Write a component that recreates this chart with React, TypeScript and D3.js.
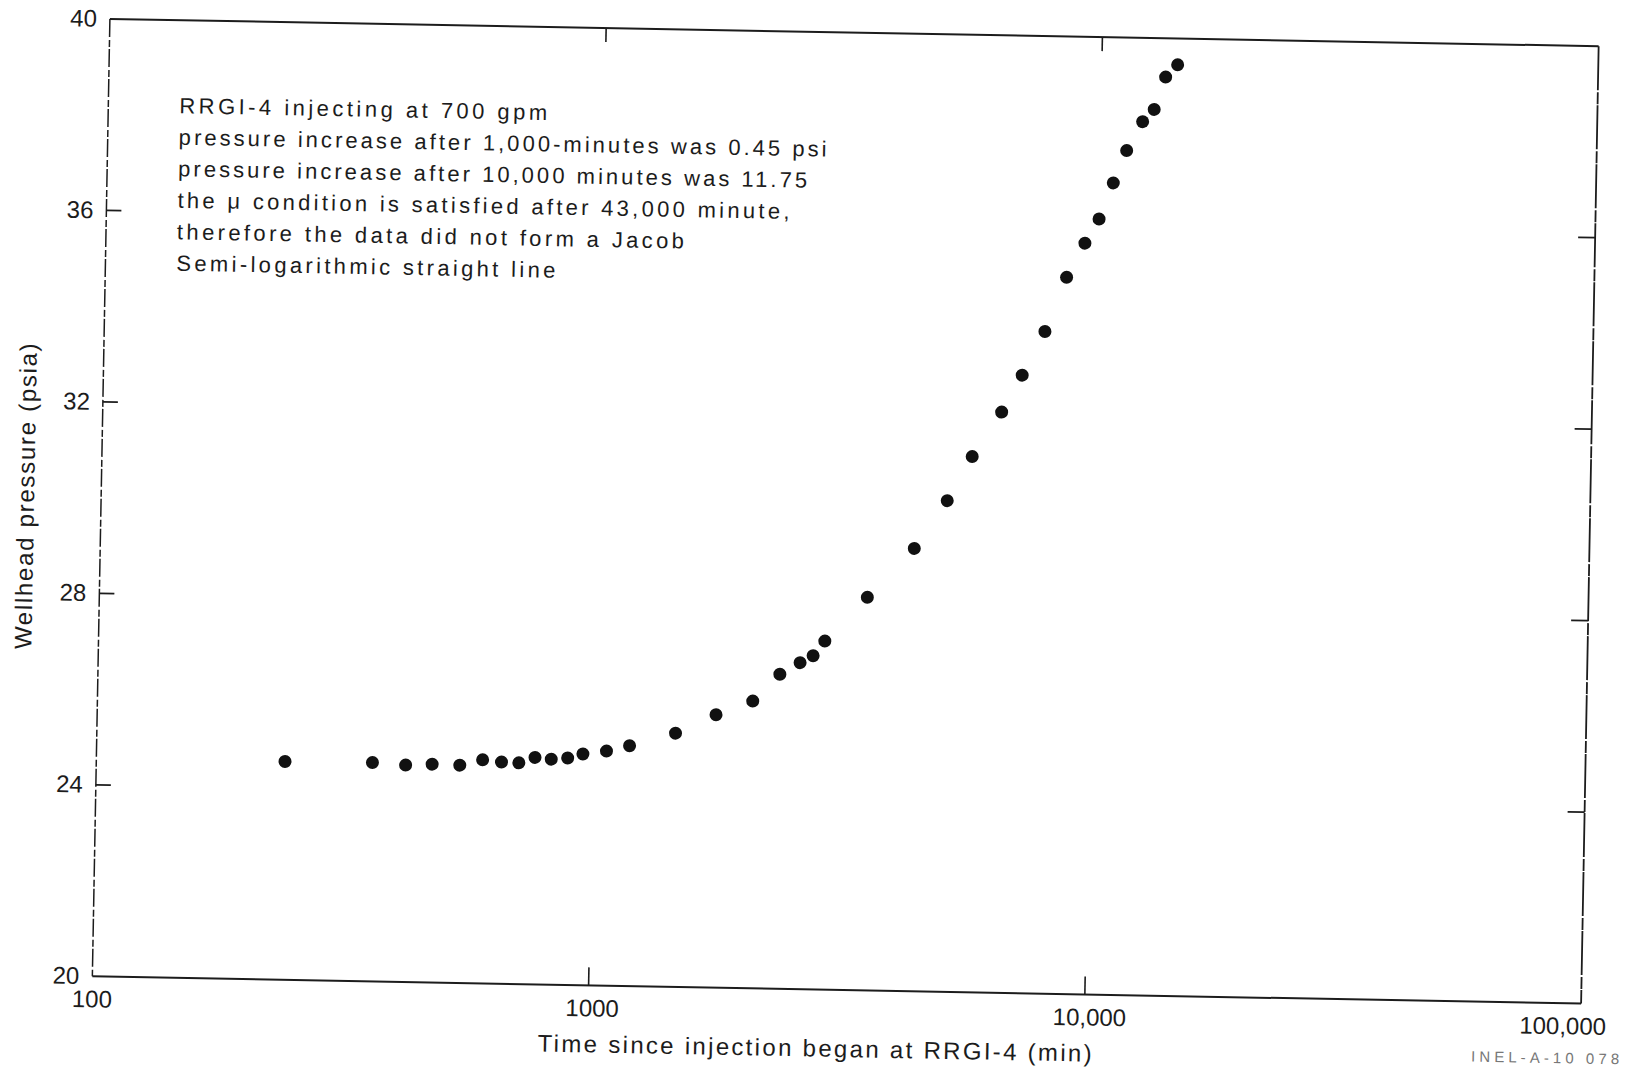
import React, { useMemo } from 'react';
import * as d3 from 'd3';

const times = [240, 360, 420, 475, 540, 600, 655, 710, 765, 825, 890, 955, 1065, 1185, 1465, 1765, 2090, 2365, 2595, 2755, 2905, 3525, 4365, 5065, 5665, 6470, 7095, 7855, 8645, 9385, 10000, 10650, 11300, 12140, 12795, 13455, 14210];
const pressures = [24.56, 24.57, 24.53, 24.56, 24.55, 24.67, 24.63, 24.62, 24.74, 24.71, 24.74, 24.83, 24.9, 25.02, 25.3, 25.7, 26.0, 26.57, 26.82, 26.97, 27.28, 28.21, 29.25, 30.26, 31.19, 32.13, 32.91, 33.83, 34.97, 35.69, 36.2, 36.96, 37.64, 38.25, 38.51, 39.19, 39.45];

const xTickValues = [100, 1000, 10000, 100000];
const xTickLabels = ['100', '1000', '10,000', '100,000'];
const yTickValues = [20, 24, 28, 32, 36, 40];
const yTickLabels = ['20', '24', '28', '32', '36', '40'];

const noteLines = [
  'RRGI-4 injecting at 700 gpm',
  'pressure increase after 1,000-minutes was 0.45 psi',
  'pressure increase after 10,000 minutes was 11.75',
  'the \u03bc condition is satisfied after 43,000 minute,',
  'therefore the data did not form a Jacob',
  'Semi-logarithmic straight line',
];
const xTitle = 'Time since injection began at RRGI-4 (min)';
const yTitle = 'Wellhead pressure (psia)';
const figureId = 'INEL-A-10 078';

const W = 1627;
const H = 1075;
const L = 101;
const R = 1590;
const T = 32.5;
const B = 990;
const FONT = "'Liberation Sans', Arial, Helvetica, sans-serif";

function layoutWords(line: string, target: number, size: number) {
  let ctx: CanvasRenderingContext2D | null = null;
  try {
    ctx = document.createElement('canvas').getContext('2d');
  } catch (e) {
    ctx = null;
  }
  const measure = (s: string) => {
    if (ctx) {
      ctx.font = `${size}px ${FONT}`;
      return ctx.measureText(s).width;
    }
    return s.length * size * 0.5;
  };
  const natural = measure(line);
  const extra = (target - natural) / Math.max(1, line.length - 1);
  const out: { text: string; x: number; len: number }[] = [];
  let idx = 0;
  line.split(' ').forEach((w) => {
    const start = idx;
    const x = measure(line.slice(0, start)) + extra * start;
    const len = measure(w) + extra * Math.max(0, w.length - 1);
    out.push({ text: w, x, len });
    idx += w.length + 1;
  });
  return out;
}

export default function App() {
  const x = d3.scaleLog().domain([100, 100000]).range([L, R]);
  const y = d3.scaleLinear().domain([20, 40]).range([B, T]);
  const cx = (L + R) / 2;
  const cy = (T + B) / 2;
  const ink = '#1c1c1c';
  const noteWidths = [368, 648, 629, 612, 507, 379];
  const noteSize = 22;
  const xNudge = [0, 4, 5, -18];
  const innerY = yTickValues.slice(1, -1);
  const innerX = xTickValues.slice(1, -1);
  const points = times.map((t, i) => ({ t, p: pressures[i] }));

  const noteWords = useMemo(
    () => noteLines.map((s, i) => layoutWords(s, noteWidths[i], noteSize)),
    []
  );

  return (
    <svg
      width={W}
      height={H}
      viewBox={`0 0 ${W} ${H}`}
      style={{ position: 'absolute', left: 0, top: 0, display: 'block', background: '#fff' }}
    >
      <rect x={0} y={0} width={W} height={H} fill="#fff" />
      <g transform={`rotate(1.05, ${cx}, ${cy})`} fontFamily={FONT} fill={ink}>
        {/* frame */}
        <line x1={L} y1={T} x2={R} y2={T} stroke={ink} strokeWidth={2} />
        <line x1={L} y1={B} x2={R} y2={B} stroke={ink} strokeWidth={2} />
        <line x1={L} y1={T} x2={L} y2={B} stroke={ink} strokeWidth={1.5} strokeDasharray="18 3 7 2" />
        <line x1={R} y1={T} x2={R} y2={B} stroke={ink} strokeWidth={1.8} strokeDasharray="44 2 12 1" />

        {/* ticks */}
        {innerY.map((v) => (
          <g key={'yt' + v}>
            <line x1={L} x2={L + 15} y1={y(v)} y2={y(v)} stroke={ink} strokeWidth={1.8} />
            <line x1={R - 17} x2={R} y1={y(v)} y2={y(v)} stroke={ink} strokeWidth={1.8} />
          </g>
        ))}
        {innerX.map((v) => (
          <g key={'xt' + v}>
            <line x1={x(v)} x2={x(v)} y1={T} y2={T + 14} stroke={ink} strokeWidth={1.6} />
            <line x1={x(v)} x2={x(v)} y1={B - 18} y2={B} stroke={ink} strokeWidth={1.6} />
          </g>
        ))}

        {/* tick labels */}
        {yTickValues.map((v, i) => (
          <text key={'yl' + v} x={L - 13} y={y(v) + 8} textAnchor="end" fontSize={24}>
            {yTickLabels[i]}
          </text>
        ))}
        {xTickValues.map((v, i) => (
          <text key={'xl' + v} x={x(v) + xNudge[i]} y={B + 31} textAnchor="middle" fontSize={24}>
            {xTickLabels[i]}
          </text>
        ))}

        {/* axis titles */}
        <text
          x={cx - 21}
          y={B + 67}
          textAnchor="middle"
          fontSize={24}
          textLength={554}
          lengthAdjust="spacing"
        >
          {xTitle}
        </text>
        <text
          transform={`translate(34, ${cy}) rotate(-90)`}
          textAnchor="middle"
          fontSize={24}
          textLength={306}
          lengthAdjust="spacing"
        >
          {yTitle}
        </text>

        {/* annotation, one text per word */}
        {noteWords.map((words, i) => (
          <g key={'n' + i}>
            {words.map((w, j) => (
              <text
                key={j}
                x={L + 71 + w.x}
                y={T + 93 + i * 31.5}
                fontSize={noteSize}
                textLength={w.len}
                lengthAdjust="spacing"
              >
                {w.text}
              </text>
            ))}
          </g>
        ))}

        {/* data */}
        {points.map((d, i) => (
          <circle key={'p' + i} cx={x(d.t)} cy={y(d.p)} r={6.5} fill="#111" />
        ))}

        <text
          x={1555}
          y={B + 60}
          textAnchor="middle"
          fontSize={15}
          fill="#777"
          textLength={148}
          lengthAdjust="spacing"
        >
          {figureId}
        </text>
      </g>
    </svg>
  );
}
